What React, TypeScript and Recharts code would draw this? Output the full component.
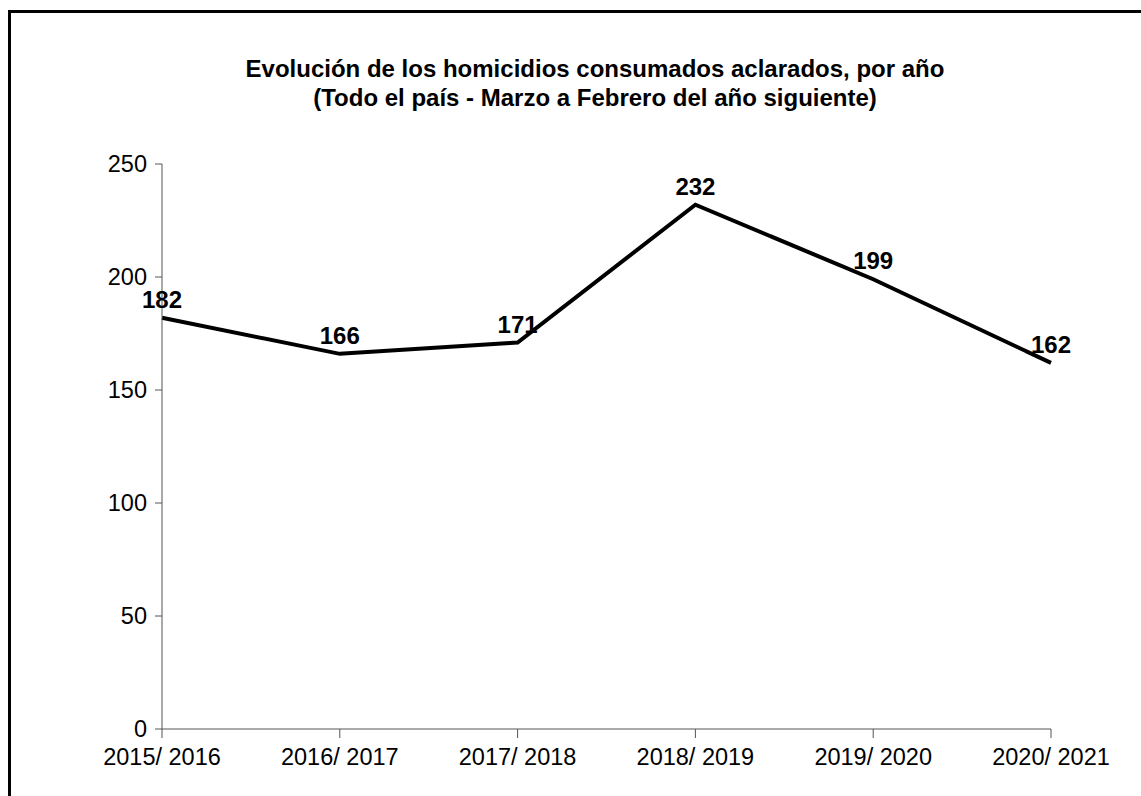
import { LineChart, Line, XAxis, YAxis, LabelList } from 'recharts'

const PERIODS = ['2015/ 2016', '2016/ 2017', '2017/ 2018', '2018/ 2019', '2019/ 2020', '2020/ 2021']
const HOMICIDIOS = [182, 166, 171, 232, 199, 162]
const Y_TICKS = [0, 50, 100, 150, 200, 250]
const TITLE = [
  'Evolución de los homicidios consumados aclarados, por año',
  '(Todo el país - Marzo a Febrero del año siguiente)',
]

const FONT = '"Liberation Sans", Arial, Helvetica, sans-serif'

export default function App() {
  const data = PERIODS.map((p, i) => ({ periodo: p, valor: HOMICIDIOS[i] }))

  return (
    <div
      style={{
        position: 'fixed',
        left: 8,
        top: 10,
        width: 1130,
        height: 783,
        borderLeft: '3px solid #000',
        borderTop: '3px solid #000',
        background: '#fff',
        fontFamily: FONT,
      }}
    >
      <div
        style={{
          position: 'absolute',
          left: 134,
          top: 41,
          width: 900,
          textAlign: 'center',
          fontWeight: 'bold',
          fontSize: 24,
          lineHeight: '29px',
          color: '#000',
        }}
      >
        {TITLE.map(t => (
          <div key={t}>{t}</div>
        ))}
      </div>
      <LineChart
        width={1130}
        height={783}
        data={data}
        margin={{ top: 151, right: 90, bottom: 27, left: 71 }}
      >
        <XAxis
          dataKey="periodo"
          height={40}
          tickSize={9}
          tickMargin={10}
          interval={0}
          stroke="#555"
          tick={{ fill: '#000', fontSize: 23.5, fontFamily: FONT }}
        />
        <YAxis
          width={80}
          domain={[0, 250]}
          ticks={Y_TICKS}
          tickSize={7}
          tickMargin={8}
          stroke="#555"
          tick={{ fill: '#000', fontSize: 23.5, fontFamily: FONT }}
        />
        <Line
          type="linear"
          dataKey="valor"
          stroke="#000"
          strokeWidth={4}
          dot={false}
          activeDot={false}
          isAnimationActive={false}
        >
          <LabelList
            dataKey="valor"
            position="top"
            offset={10}
            fill="#000"
            fontSize={24}
            fontWeight="bold"
            fontFamily={FONT}
          />
        </Line>
      </LineChart>
    </div>
  )
}
